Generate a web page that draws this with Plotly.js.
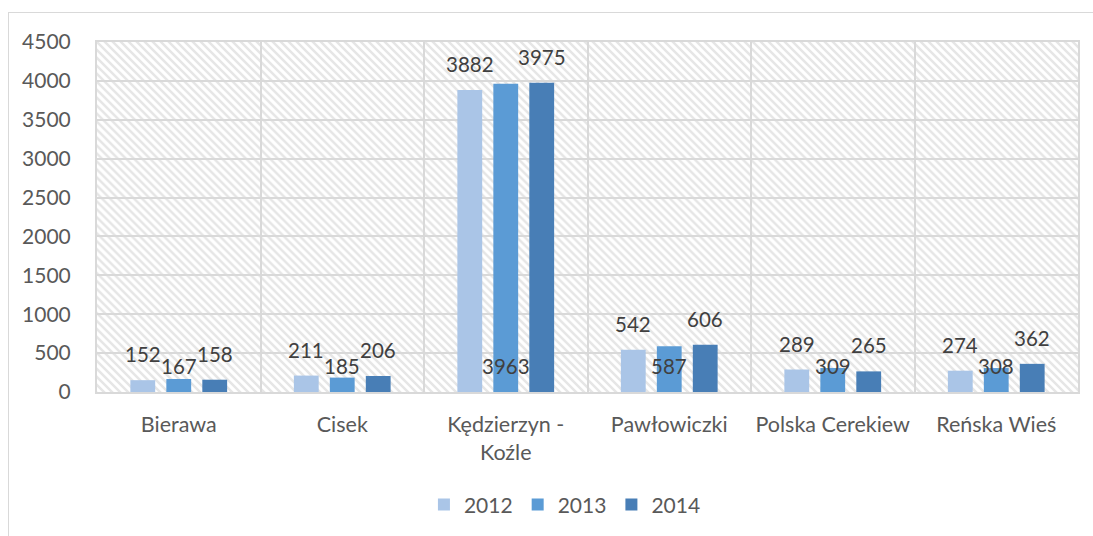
<!DOCTYPE html>
<html>
<head>
<meta charset="utf-8">
<script src="https://cdn.plot.ly/plotly-3.0.1.min.js"></script>
<style>
  html, body { margin: 0; padding: 0; background: #fff; }
  #wrap { position: relative; width: 1093px; height: 536px; overflow: hidden; }
  #chart { width: 1093px; height: 536px; }
  #frame { position: absolute; left: 8px; top: 12px; width: 1200px; height: 600px;
           border: 1px solid #D9D9D9; pointer-events: none; box-sizing: border-box; }
</style>
</head>
<body>
<div id="wrap">
  <div id="chart"></div>
  <div id="frame"></div>
</div>
<script>
// ---- data ----
const categories = ['Bierawa', 'Cisek', 'Kędzierzyn -<br>Koźle', 'Pawłowiczki', 'Polska Cerekiew', 'Reńska Wieś'];
const years = ['2012', '2013', '2014'];
const values2012 = [152, 211, 3882, 542, 289, 274];
const values2013 = [167, 185, 3963, 587, 309, 308];
const values2014 = [158, 206, 3975, 606, 265, 362];
const yTickVals = [0, 500, 1000, 1500, 2000, 2500, 3000, 3500, 4000, 4500];

// ---- style ----
const colors = ['#AAC5E7', '#5B9BD5', '#487EB6'];
const textColor = '#595959';
const labelColor = '#404040';
const gridColor = '#D9D9D9';
const FONT = 'Lato, "Open Sans", sans-serif';
const bargap = 0.34, bargroupgap = 0.31;

const series = [values2012, values2013, values2014];
const traces = series.map((vals, k) => ({
  type: 'bar',
  name: years[k],
  x: categories,
  y: vals,
  marker: { color: colors[k], line: { width: 0 } },
  hoverinfo: 'skip'
}));

// data labels: 2012/2014 above the bar, 2013 near the base (as in reference)
const slot = (1 - bargap) / 3;
const annotations = [];
series.forEach((vals, k) => {
  vals.forEach((v, i) => {
    annotations.push({
      x: i + (k - 1) * slot,
      xref: 'x', yref: 'y',
      y: k === 1 ? 0 : v,
      yshift: 26,
      text: String(v),
      showarrow: false,
      xanchor: 'center', yanchor: 'middle',
      font: { family: FONT, size: 20.5, color: labelColor }
    });
  });
});

// hatched plot-area background
const PW = 1093 - 97 - 15, PH = 536 - 42 - 143;
const svg = `<svg xmlns="http://www.w3.org/2000/svg" width="${PW}" height="${PH}" viewBox="0 0 ${PW} ${PH}" preserveAspectRatio="none">
<defs><pattern id="p" width="8" height="8" patternUnits="userSpaceOnUse">
<path d="M-2,-2 L10,10 M-2,6 L2,10 M6,-2 L10,2" stroke="#E6E6E6" stroke-width="2.5"/>
</pattern></defs>
<rect width="${PW}" height="${PH}" fill="#fff"/>
<rect width="${PW}" height="${PH}" fill="url(#p)"/>
</svg>`;
const hatchSrc = 'data:image/svg+xml;charset=utf-8,' + encodeURIComponent(svg);

const layout = {
  width: 1093, height: 536,
  margin: { l: 97, r: 15, t: 42, b: 143 },
  paper_bgcolor: 'rgba(0,0,0,0)',
  plot_bgcolor: 'rgba(0,0,0,0)',
  barmode: 'group',
  bargap: bargap,
  bargroupgap: bargroupgap,
  font: { family: FONT, size: 21, color: textColor },
  showlegend: true,
  legend: {
    orientation: 'h', x: 0.477, xanchor: 'center', y: -0.319, yanchor: 'middle',
    font: { family: FONT, size: 21, color: textColor },
    itemclick: false, itemdoubleclick: false, traceorder: 'normal'
  },
  xaxis: {
    type: 'category',
    tickson: 'boundaries',
    tickangle: 0,
    ticks: 'outside', ticklen: 8, tickcolor: 'rgba(0,0,0,0)',
    ticklabelstandoff: 12,
    showgrid: true, gridcolor: gridColor, gridwidth: 2,
    showline: true, linecolor: gridColor, linewidth: 2, mirror: true,
    tickfont: { family: FONT, size: 21.5, color: textColor },
    fixedrange: true
  },
  yaxis: {
    range: [0, 4500],
    tickvals: yTickVals,
    ticks: 'outside', ticklen: 20, tickcolor: 'rgba(0,0,0,0)',
    showgrid: true, gridcolor: gridColor, gridwidth: 2,
    showline: true, linecolor: gridColor, linewidth: 2, mirror: true,
    zeroline: false,
    tickfont: { family: FONT, size: 21, color: textColor },
    fixedrange: true
  },
  images: [{
    source: hatchSrc, xref: 'paper', yref: 'paper',
    x: 0, y: 1, sizex: 1, sizey: 1, xanchor: 'left', yanchor: 'top',
    sizing: 'stretch', layer: 'below'
  }],
  annotations: annotations
};

Plotly.newPlot('chart', traces, layout, { displayModeBar: false, staticPlot: true });
</script>
</body>
</html>
